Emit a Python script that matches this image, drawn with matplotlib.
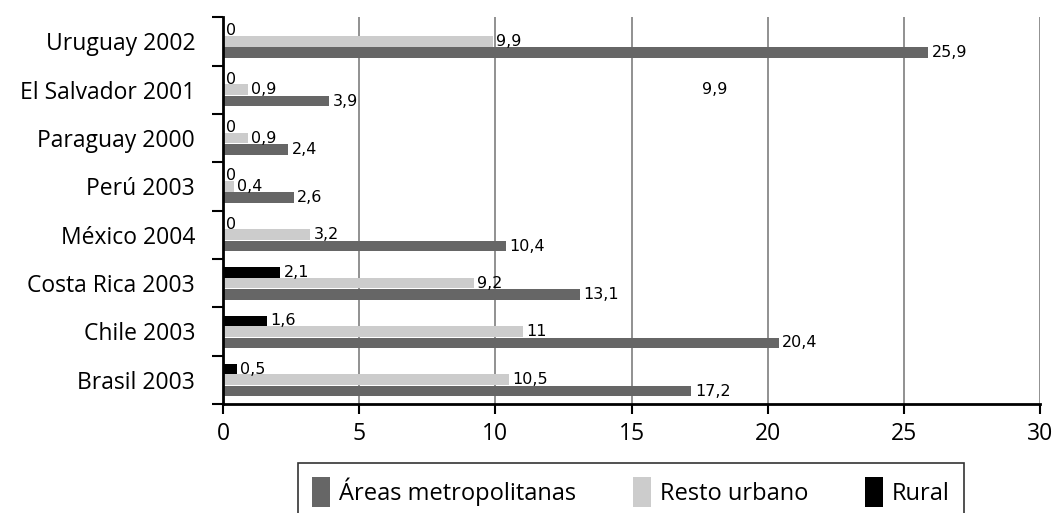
import numpy as np
from matplotlib import pyplot as plt
from matplotlib.patches import Patch
from matplotlib.ticker import FixedLocator

# Data (top to bottom in the picture)
paises = ["Uruguay 2002", "El Salvador 2001", "Paraguay 2000", "Perú 2003",
          "México 2004", "Costa Rica 2003", "Chile 2003", "Brasil 2003"]
metro = [25.9, 3.9, 2.4, 2.6, 10.4, 13.1, 20.4, 17.2]
resto = [9.9, 0.9, 0.9, 0.4, 3.2, 9.2, 11, 10.5]
rural = [0, 0, 0, 0, 0, 2.1, 1.6, 0.5]
series_names = ["Áreas metropolitanas", "Resto urbano", "Rural"]
colores = ["#666666", "#cccccc", "#000000"]

plt.rcParams['font.family'] = ['Open Sans', 'DejaVu Sans']

def fmt(v):
    return ("%g" % v).replace(".", ",")

fig = plt.figure(figsize=(10.57, 5.13), dpi=100)
ax = fig.add_axes([0.211, 0.2125, 0.773, 0.754])

n = len(paises)
y = np.arange(n)[::-1]  # Uruguay on top
h = 0.22
offsets = [-0.235, 0.0, 0.22]

for vals, off, col in zip([metro, resto, rural], offsets, colores):
    bars = ax.barh(y + off, vals, height=h, color=col, zorder=3)
    for b, v in zip(bars, vals):
        ax.annotate(fmt(v), (b.get_width(), b.get_y() + b.get_height() / 2),
                    xytext=(2.5, 0), textcoords="offset points",
                    ha="left", va="center", fontsize=11.5,
                    family="DejaVu Sans", zorder=4)

# stray label present in the original
ax.text(18.05, 6.0, "9,9", ha="center", va="center", fontsize=11.5,
        family="DejaVu Sans")

ax.set_xlim(0, 30)
ax.set_ylim(-0.5, n - 0.5)
ax.set_xticks(np.arange(0, 31, 5))
ax.tick_params(axis="x", labelsize=16.5, length=7, width=1.5, direction="out", pad=6)

ax.yaxis.set_major_locator(FixedLocator(np.arange(-0.5, n, 1)))
ax.set_yticklabels([])
ax.yaxis.set_minor_locator(FixedLocator(y))
ax.set_yticklabels(paises, minor=True)
ax.tick_params(axis="y", which="major", length=8, width=1.5, direction="out")
ax.tick_params(axis="y", which="minor", length=0, labelsize=16.5, pad=20)

ax.grid(axis="x", color="#888888", linewidth=1.3, zorder=0)
for s in ["top", "right"]:
    ax.spines[s].set_visible(False)
for s in ["left", "bottom"]:
    ax.spines[s].set_linewidth(2)
    ax.spines[s].set_zorder(5)

handles = [Patch(facecolor=c, edgecolor="none") for c in colores]
leg = fig.legend(handles, series_names, loc="upper center",
                 bbox_to_anchor=(0.597, 0.0975), ncol=3, frameon=True,
                 fancybox=False, edgecolor="black", fontsize=17,
                 handlelength=0.75, handleheight=1.6, handletextpad=0.4,
                 columnspacing=2.4, borderpad=0.6, borderaxespad=0)
leg.get_frame().set_linewidth(1.2)

plt.savefig("out.png", dpi=100)
